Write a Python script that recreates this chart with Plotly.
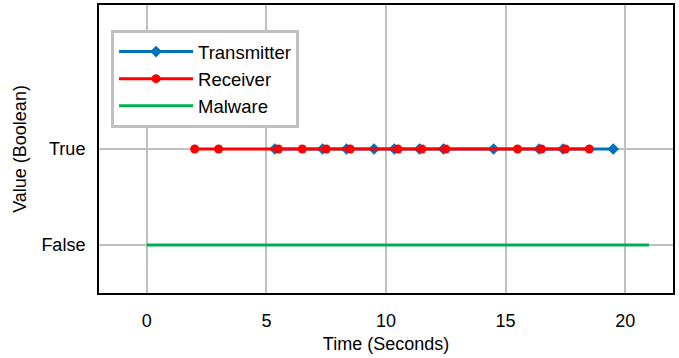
import plotly.graph_objects as go

tx_times = [5.35, 7.35, 8.35, 9.5, 10.35, 11.4, 12.4, 14.5, 16.4, 17.4, 19.5]
tx_values = [1] * len(tx_times)
rx_times = [2, 3, 5.5, 6.5, 7.5, 8.5, 10.5, 11.5, 12.5, 15.5, 16.5, 17.5, 18.5]
rx_values = [1] * len(rx_times)
mw_times = [0, 21]
mw_values = [0, 0]
y_tickvals = [0, 1]
y_ticktext = ["False", "True"]
x_tickvals = [0, 5, 10, 15, 20]

fig = go.Figure()
fig.add_trace(go.Scatter(x=tx_times, y=tx_values, mode="lines+markers", name="Transmitter",
                         line=dict(color="#0072BD", width=3),
                         marker=dict(symbol="diamond", size=9, color="#0072BD")))
fig.add_trace(go.Scatter(x=rx_times, y=rx_values, mode="lines+markers", name="Receiver",
                         line=dict(color="#FF0000", width=3),
                         marker=dict(symbol="circle", size=9, color="#FF0000")))
fig.add_trace(go.Scatter(x=mw_times, y=mw_values, mode="lines", name="Malware",
                         line=dict(color="#00B050", width=3)))

fig.update_layout(
    width=679, height=358,
    margin=dict(l=99, r=6, t=5, b=65, autoexpand=False),
    paper_bgcolor="white", plot_bgcolor="white",
    font=dict(family="Liberation Sans, Arial, sans-serif", size=18, color="black"),
    legend=dict(x=0.021, y=0.913, xanchor="left", yanchor="top",
                bordercolor="#C0C0C0", borderwidth=3, bgcolor="white",
                font=dict(size=18.5), tracegroupgap=0, itemwidth=74),
    showlegend=True,
)
fig.update_xaxes(range=[-2, 22], tickvals=x_tickvals, showgrid=True, gridcolor="#C0C0C0", gridwidth=2,
                 zeroline=False, showline=True, linecolor="black", linewidth=2, mirror=True,
                 ticks="", ticklabelstandoff=10, automargin=False,
                 title=dict(text="Time (Seconds)", font=dict(size=18), standoff=8))
fig.update_yaxes(range=[-0.5, 2.5], tickvals=y_tickvals, ticktext=y_ticktext, showgrid=True,
                 gridcolor="#C0C0C0", gridwidth=2, zeroline=False, showline=True, linecolor="black",
                 linewidth=2, mirror=True, ticks="", ticklabelstandoff=8, automargin=False,
                 title=dict(text="Value (Boolean)", font=dict(size=18), standoff=10))

fig.write_html("out.html", config={"displayModeBar": False},
               post_script="document.body.style.margin='0';")
